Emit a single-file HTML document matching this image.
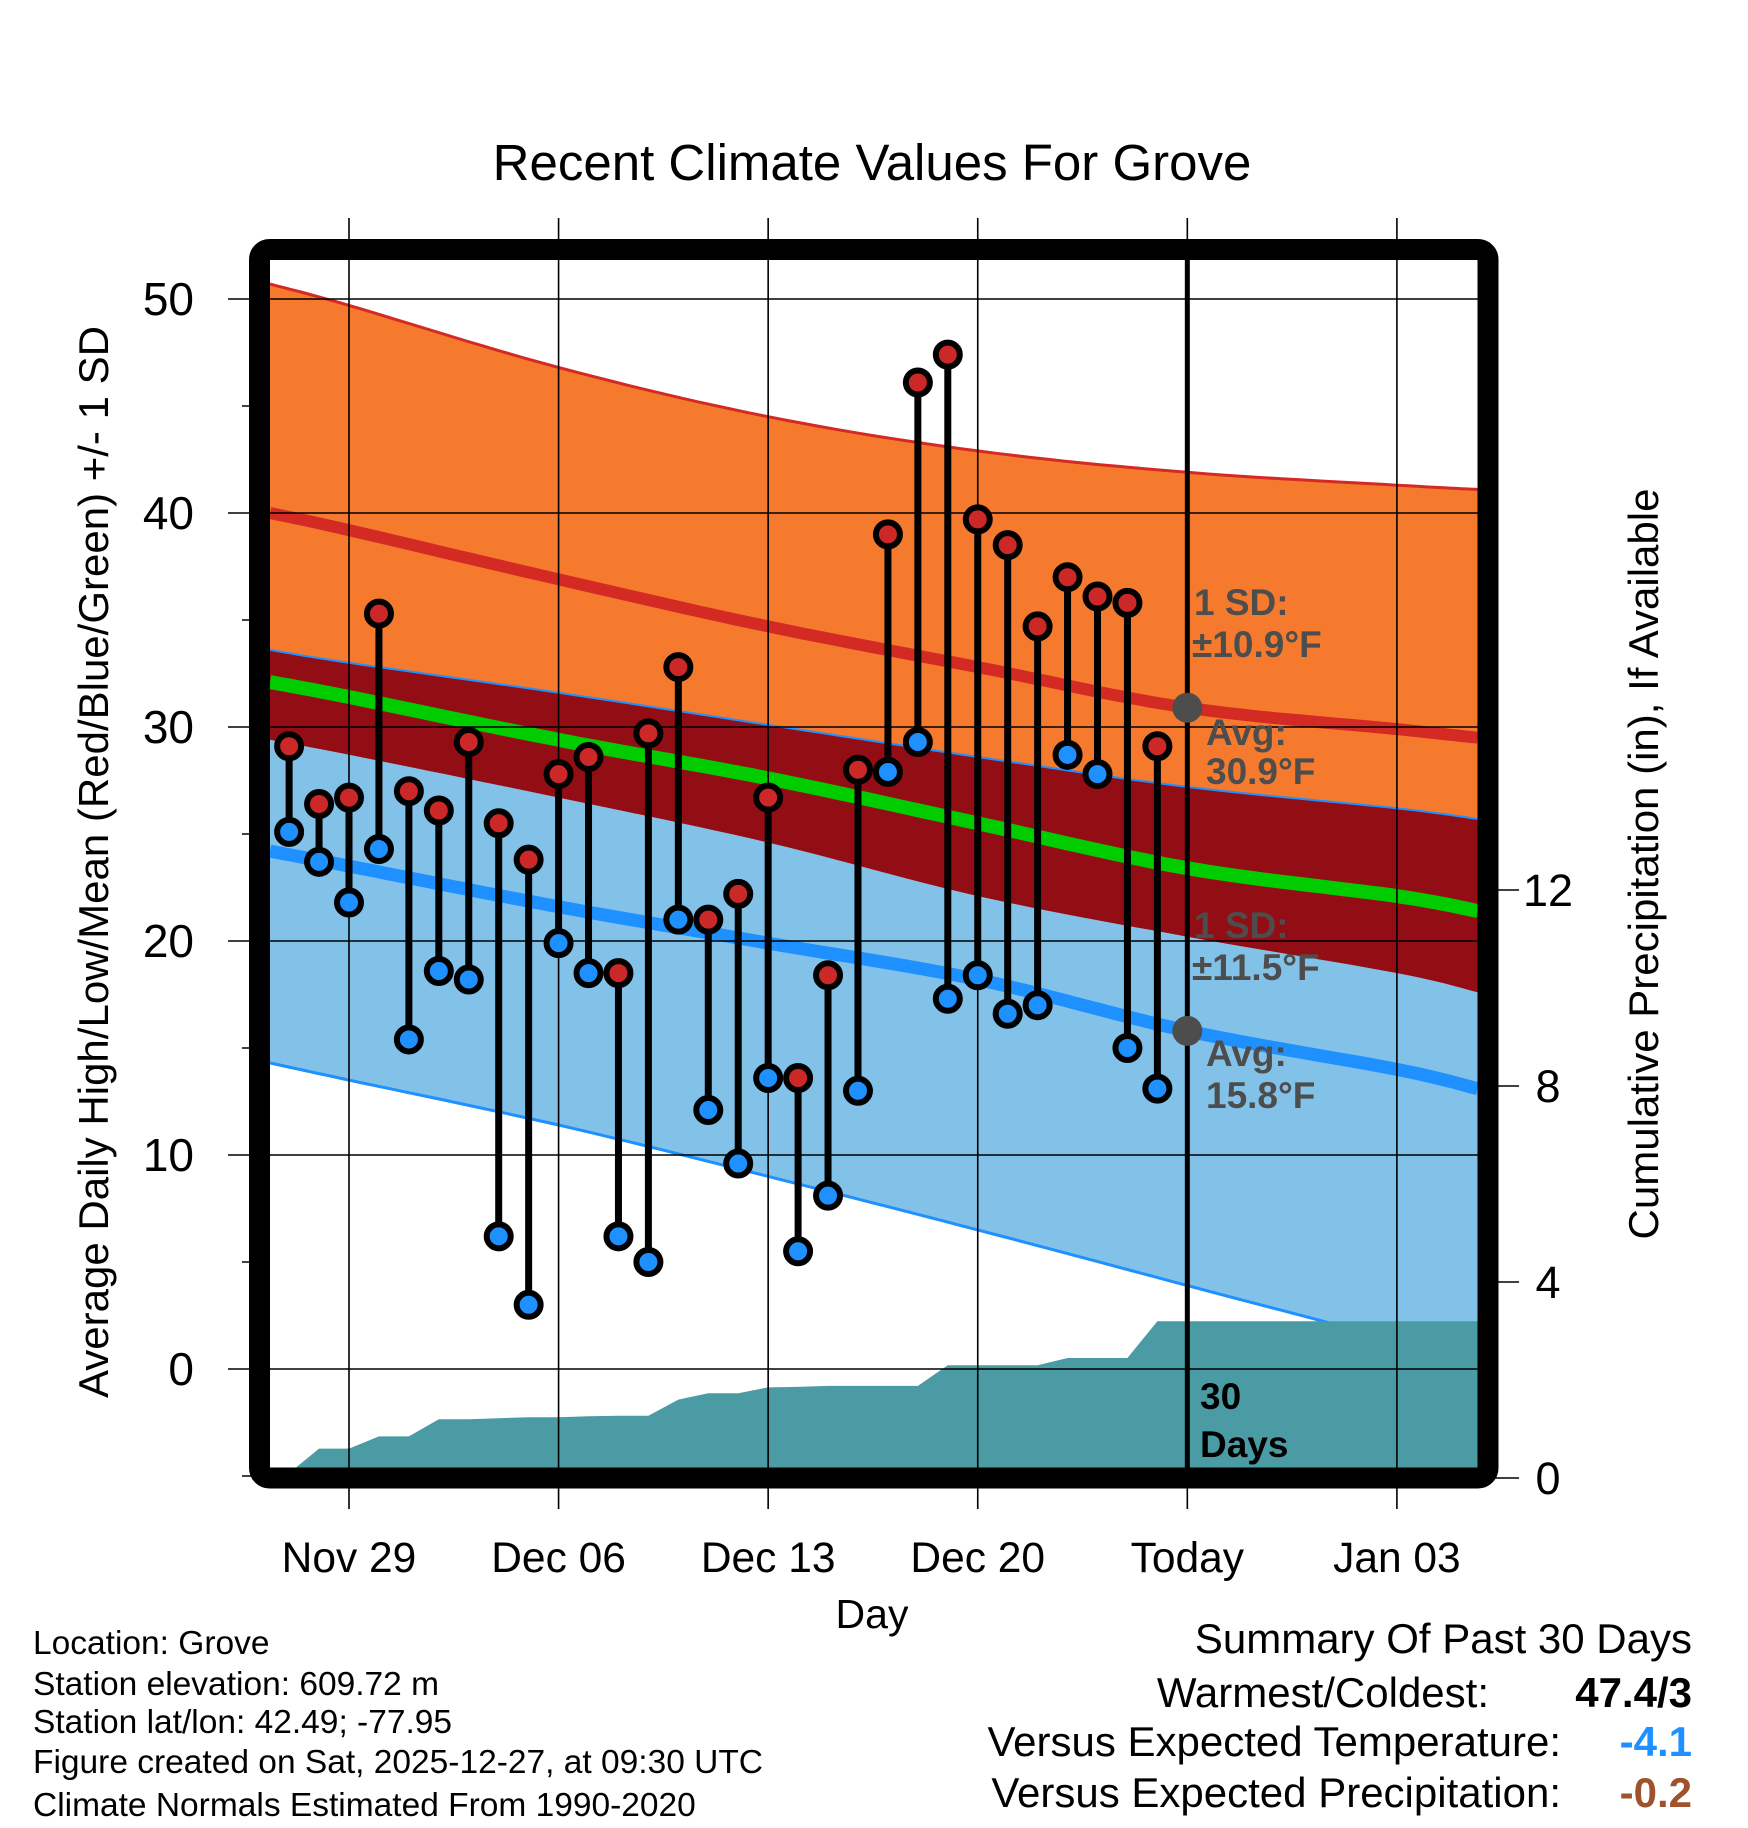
<!DOCTYPE html>
<html><head><meta charset="utf-8"><style>
html,body{margin:0;padding:0;background:#fff;}
svg{display:block;font-family:"Liberation Sans",sans-serif;}
</style></head><body>
<svg id="chart" width="1748" height="1828" viewBox="0 0 1748 1828" xmlns="http://www.w3.org/2000/svg">
<defs><clipPath id="plotclip"><rect x="270" y="260" width="1208" height="1208"/></clipPath></defs>
<g id="bands" clip-path="url(#plotclip)"></g>
<g id="precip" clip-path="url(#plotclip)"></g>
<g id="lines" clip-path="url(#plotclip)"></g>
<g id="grid"></g>
<g id="marks"></g>
<rect x="259.5" y="249.5" width="1228.5" height="1228.5" rx="10" fill="none" stroke="#000" stroke-width="21"/>
<text x="872" y="180" text-anchor="middle" font-size="51">Recent Climate Values For Grove</text>
<text transform="translate(108,862) rotate(-90)" text-anchor="middle" font-size="42">Average Daily High/Low/Mean (Red/Blue/Green) +/- 1 SD</text>
<text transform="translate(1658,864) rotate(-90)" text-anchor="middle" font-size="42">Cumulative Precipitation (in), If Available</text>
<text x="872" y="1628" text-anchor="middle" font-size="41">Day</text>
<g font-size="33.5">
<text x="33" y="1654">Location: Grove</text>
<text x="33" y="1695">Station elevation: 609.72 m</text>
<text x="33" y="1733">Station lat/lon: 42.49; -77.95</text>
<text x="33" y="1773">Figure created on Sat, 2025-12-27, at 09:30 UTC</text>
<text x="33" y="1816">Climate Normals Estimated From 1990-2020</text>
</g>
<g font-size="42" text-anchor="end">
<text x="1692" y="1653">Summary Of Past 30 Days</text>
<text x="1489" y="1707">Warmest/Coldest:</text>
<text x="1692" y="1707" font-weight="bold">47.4/3</text>
<text x="1561" y="1756">Versus Expected Temperature:</text>
<text x="1692" y="1756" font-weight="bold" fill="#1e90ff">-4.1</text>
<text x="1561" y="1807">Versus Expected Precipitation:</text>
<text x="1692" y="1807" font-weight="bold" fill="#a0522d">-0.2</text>
</g>
<g font-size="37" font-weight="bold" fill="#4d4d4d">
<text x="1194" y="615">1 SD:</text>
<text x="1192" y="657">±10.9°F</text>
<text x="1206" y="745">Avg:</text>
<text x="1206" y="784">30.9°F</text>
<text x="1194" y="938">1 SD:</text>
<text x="1192" y="980">±11.5°F</text>
<text x="1206" y="1066">Avg:</text>
<text x="1206" y="1108">15.8°F</text>
<text x="1200" y="1409" fill="#000">30</text>
<text x="1200" y="1457" fill="#000">Days</text>
</g>
</svg>
<script>
const normDays = [-2.64, 0, 7, 14, 21, 28, 35, 37.7];
const highUpper = [50.7, 49.7, 46.8, 44.5, 42.9, 41.9, 41.3, 41.1];
const highMean  = [40.0, 39.2, 36.9, 34.7, 32.8, 30.9, 29.9, 29.5];
const highLower = [33.6, 33.0, 31.6, 30.1, 28.6, 27.2, 26.2, 25.7];
const meanLine  = [32.1, 31.4, 29.4, 27.6, 25.5, 23.4, 22.1, 21.4];
const lowUpper  = [29.4, 28.7, 26.7, 24.6, 22.1, 20.2, 18.5, 17.6];
const lowMean   = [24.2, 23.5, 21.6, 19.9, 18.2, 15.8, 14.0, 13.1];
const lowLower  = [14.3, 13.5, 11.4, 9.0, 6.5, 3.9, 1.3, 0.1];
const obsDays = [-2,-1,0,1,2,3,4,5,6,7,8,9,10,11,12,13,14,15,16,17,18,19,20,21,22,23,24,25,26,27];
const highs = [29.1,26.4,26.7,35.3,27.0,26.1,29.3,25.5,23.8,27.8,28.6,18.5,29.7,32.8,21.0,22.2,26.7,13.6,18.4,28.0,39.0,46.1,47.4,39.7,38.5,34.7,37.0,36.1,35.8,29.1];
const lows  = [25.1,23.7,21.8,24.3,15.4,18.6,18.2,6.2,3.0,19.9,18.5,6.2,5.0,21.0,12.1,9.6,13.6,5.5,8.1,13.0,27.9,29.3,17.3,18.4,16.6,17.0,28.7,27.8,15.0,13.1];
const precip = [0.1,0.6,0.6,0.85,0.85,1.2,1.2,1.22,1.24,1.24,1.26,1.27,1.27,1.6,1.73,1.73,1.85,1.86,1.88,1.88,1.88,1.88,2.3,2.3,2.3,2.3,2.45,2.45,2.45,3.2];
const xTickDays = [0,7,14,21,28,35];
const xTickLabels = ["Nov 29","Dec 06","Dec 13","Dec 20","Today","Jan 03"];
const yTicks = [0,10,20,30,40,50];
const pTicks = [0,4,8,12];
const todayDay = 28;
const todayHigh = 30.9, todayLow = 15.8;

const X0=349, DX=29.94;
const x = d => X0 + DX*d;
const yT = v => 1369 - 21.4*v;
const yP = p => 1478 - 49*p;
const NS="http://www.w3.org/2000/svg";
function mk(tag, attrs, parent){const e=document.createElementNS(NS,tag);for(const k in attrs)e.setAttribute(k,attrs[k]);parent.appendChild(e);return e;}
function smoothPts(arr){
  const P=normDays.map((d,i)=>[x(d),yT(arr[i])]);
  const out=[];
  for(let i=0;i<P.length-1;i++){
    const p0=P[Math.max(0,i-1)],p1=P[i],p2=P[i+1],p3=P[Math.min(P.length-1,i+2)];
    for(let s=0;s<12;s++){
      const t=s/12,t2=t*t,t3=t2*t;
      const f=(a,b,c,d)=>0.5*((2*b)+(-a+c)*t+(2*a-5*b+4*c-d)*t2+(-a+3*b-3*c+d)*t3);
      out.push([f(p0[0],p1[0],p2[0],p3[0]),f(p0[1],p1[1],p2[1],p3[1])]);
    }
  }
  out.push(P[P.length-1]);
  return out.map(p=>p[0].toFixed(1)+','+p[1].toFixed(1));
}
const bandPath = (a,b) => 'M'+smoothPts(a).join('L')+'L'+smoothPts(b).reverse().join('L')+'Z';
const linePath = a => 'M'+smoothPts(a).join('L');

const bands=document.getElementById('bands');
let e=mk('path',{d:bandPath(highUpper,highLower),fill:'#f57a2e'},bands);


e=mk('path',{d:bandPath(lowUpper,lowLower),fill:'#82c1e8'},bands);


e=mk('path',{d:bandPath(highLower,lowUpper),fill:'#920d14'},bands);



const pr=document.getElementById('precip');
let pd='M'+x(-2.64)+','+yP(0)+'L'+x(-2.64)+','+yP(precip[0]);
obsDays.forEach((d,i)=>{pd+='L'+x(d)+','+yP(precip[i]);});
pd+='L'+x(37.7)+','+yP(precip[precip.length-1])+'L'+x(37.7)+','+yP(0)+'Z';
e=mk('path',{d:pd,fill:'#4a9ba4'},pr);



const ln=document.getElementById('lines');
e=mk('path',{d:linePath(highUpper),fill:'none',stroke:'#d42a24','stroke-width':3},ln);


e=mk('path',{d:linePath(highLower),fill:'none',stroke:'#1e90ff','stroke-width':2},ln);


e=mk('path',{d:linePath(lowLower),fill:'none',stroke:'#1e90ff','stroke-width':3},ln);


e=mk('path',{d:linePath(highMean),fill:'none',stroke:'#d42a24','stroke-width':12},ln);


e=mk('path',{d:linePath(meanLine),fill:'none',stroke:'#00cc00','stroke-width':14},ln);


e=mk('path',{d:linePath(lowMean),fill:'none',stroke:'#1e90ff','stroke-width':13},ln);


// precip drawn over lower edge line in reference
pr.parentNode.insertBefore(ln, pr);

const g=document.getElementById('grid');
xTickDays.forEach((d,i)=>{
  const l=mk('line',{x1:x(d),x2:x(d),y1:218,y2:1509,stroke:'#000','stroke-width':1.6},g);
  
  
  const t=mk('text',{x:x(d),y:1572,'text-anchor':'middle','font-size':42.5},g);
  t.textContent=xTickLabels[i];
  
  
});
yTicks.forEach(v=>{
  const l=mk('line',{x1:228,x2:1478,y1:yT(v),y2:yT(v),stroke:'#000','stroke-width':1.6},g);
  
  
  const t=mk('text',{x:194,y:yT(v)+16,'text-anchor':'end','font-size':46},g);
  t.textContent=v;
  
  
});
[-5,5,15,25,35,45].forEach(v=>{
  const l=mk('line',{x1:242,x2:256,y1:yT(v),y2:yT(v),stroke:'#000','stroke-width':1.5},g);
  
  
});
pTicks.forEach(p=>{
  const l=mk('line',{x1:1488,x2:1519,y1:yP(p),y2:yP(p),stroke:'#000','stroke-width':1.6},g);
  
  
  const t=mk('text',{x:1548,y:yP(p)+16,'text-anchor':'middle','font-size':45},g);
  t.textContent=p;
  
  
});
e=mk('line',{x1:x(todayDay),x2:x(todayDay),y1:260,y2:1478,stroke:'#000','stroke-width':5},g);


e=mk('circle',{cx:x(todayDay),cy:yT(todayHigh),r:15,fill:'#4d4d4d'},g);


e=mk('circle',{cx:x(todayDay),cy:yT(todayLow),r:15,fill:'#4d4d4d'},g);



const m=document.getElementById('marks');
obsDays.forEach((d,i)=>{
  const s=mk('line',{x1:x(d),x2:x(d),y1:yT(highs[i]),y2:yT(lows[i]),stroke:'#000','stroke-width':7},m);
  
  
  const h=mk('circle',{cx:x(d),cy:yT(highs[i]),r:12,fill:'#cc2828',stroke:'#000','stroke-width':6},m);
  
  
  const lo=mk('circle',{cx:x(d),cy:yT(lows[i]),r:12,fill:'#1e90ff',stroke:'#000','stroke-width':6},m);
  
  
});
</script>
</body></html>
